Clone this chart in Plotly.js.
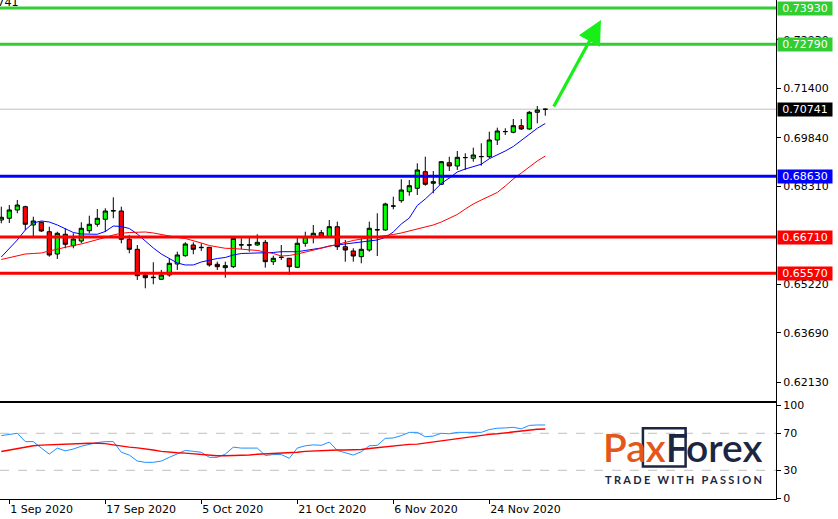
<!DOCTYPE html>
<html><head><meta charset="utf-8">
<script src="https://cdn.plot.ly/plotly-3.0.1.min.js"></script>
<style>html,body{margin:0;padding:0;background:#fff;overflow:hidden}#chart{width:838px;height:519px}</style>
</head><body><div id="chart"></div>
<script>
// ---- data (NZD/USD daily) ----
const dates = ['31 Aug','1 Sep','2 Sep','3 Sep','4 Sep','7 Sep','8 Sep','9 Sep','10 Sep','11 Sep',
 '14 Sep','15 Sep','16 Sep','17 Sep','18 Sep','21 Sep','22 Sep','23 Sep','24 Sep','25 Sep',
 '28 Sep','29 Sep','30 Sep','1 Oct','2 Oct','5 Oct','6 Oct','7 Oct','8 Oct','9 Oct',
 '12 Oct','13 Oct','14 Oct','15 Oct','16 Oct','19 Oct','20 Oct','21 Oct','22 Oct','23 Oct',
 '26 Oct','27 Oct','28 Oct','29 Oct','30 Oct','2 Nov','3 Nov','4 Nov','5 Nov','6 Nov',
 '9 Nov','10 Nov','11 Nov','12 Nov','13 Nov','16 Nov','17 Nov','18 Nov','19 Nov','20 Nov',
 '23 Nov','24 Nov','25 Nov','26 Nov','27 Nov','30 Nov','1 Dec','2 Dec','3 Dec'];
const openP = [0.67247,0.67301,0.67563,0.67667,0.67090,0.67175,0.66878,0.66175,0.66797,0.66437,
 0.66585,0.66910,0.67112,0.67269,0.67531,0.67531,0.66639,0.66323,0.65513,0.65428,
 0.65378,0.65513,0.65860,0.66122,0.66459,0.66374,0.66387,0.65851,0.65744,0.65775,
 0.66459,0.66465,0.66459,0.66544,0.65933,0.66067,0.66040,0.65756,0.66513,0.66702,
 0.66847,0.66702,0.67036,0.66405,0.66270,0.66090,0.66301,0.66932,0.66932,0.67684,
 0.67856,0.68140,0.68247,0.68770,0.68405,0.68373,0.69054,0.68950,0.69212,0.69193,
 0.69243,0.69243,0.69770,0.70032,0.70013,0.70221,0.70117,0.70643,0.70735];
const highP = [0.67667,0.67720,0.67878,0.67698,0.67351,0.67200,0.67036,0.66878,0.66986,0.66828,
 0.67175,0.67383,0.67594,0.67616,0.67963,0.67667,0.66775,0.66459,0.65545,0.65914,
 0.65671,0.66040,0.66248,0.66544,0.66544,0.66513,0.66396,0.65933,0.65933,0.66711,
 0.66670,0.66680,0.66797,0.66617,0.66122,0.66459,0.66049,0.66721,0.66878,0.67090,
 0.66932,0.67247,0.67194,0.66617,0.66355,0.66670,0.67194,0.67459,0.67793,0.67982,
 0.68531,0.68509,0.69035,0.69243,0.68792,0.69108,0.69243,0.69423,0.69350,0.69527,
 0.69666,0.70032,0.70158,0.70139,0.70432,0.70432,0.70684,0.70842,0.70760];
const lowP = [0.67143,0.67153,0.67459,0.66932,0.66721,0.66869,0.66090,0.66018,0.66355,0.66355,
 0.66513,0.66828,0.67036,0.66869,0.67301,0.66513,0.66197,0.65356,0.65094,0.65220,
 0.65356,0.65460,0.65671,0.66090,0.66166,0.66270,0.65775,0.65671,0.65428,0.65734,
 0.66333,0.66248,0.66437,0.65744,0.65829,0.65986,0.65513,0.65734,0.66405,0.66513,
 0.66670,0.66680,0.66301,0.65933,0.65933,0.65882,0.66248,0.66112,0.66910,0.67585,
 0.67793,0.68013,0.68035,0.68329,0.68089,0.68351,0.68792,0.68824,0.68824,0.69086,
 0.68960,0.69193,0.69612,0.69927,0.69981,0.70085,0.70095,0.70296,0.70536];
const closeP = [0.67333,0.67563,0.67720,0.67112,0.67216,0.66901,0.66144,0.66828,0.66481,0.66648,
 0.66986,0.67112,0.67301,0.67531,0.67541,0.66639,0.66323,0.65491,0.65428,0.65440,
 0.65513,0.65882,0.66144,0.66491,0.66323,0.66384,0.65829,0.65775,0.65807,0.66670,
 0.66465,0.66455,0.66544,0.65933,0.66040,0.66072,0.65775,0.66513,0.66721,0.66828,
 0.66702,0.67036,0.66405,0.66301,0.66112,0.66323,0.66986,0.66942,0.67752,0.67689,
 0.68193,0.68329,0.68824,0.68373,0.68455,0.69086,0.68950,0.69224,0.69217,0.69297,
 0.69248,0.69770,0.70054,0.70037,0.70221,0.70117,0.70643,0.70716,0.70741];
const maFast = [0.66081,0.66333,0.66617,0.66932,0.67153,0.67216,0.67184,0.67090,0.66964,0.66853,
 0.66806,0.66797,0.66797,0.66885,0.67058,0.67042,0.66979,0.66806,0.66585,0.66365,
 0.66175,0.66033,0.65892,0.65829,0.65829,0.65923,0.65986,0.66033,0.66065,0.66144,
 0.66191,0.66197,0.66216,0.66229,0.66223,0.66248,0.66248,0.66248,0.66286,0.66317,
 0.66365,0.66428,0.66459,0.66491,0.66522,0.66554,0.66585,0.66617,0.66696,0.66869,
 0.67121,0.67310,0.67705,0.67910,0.68146,0.68398,0.68572,0.68761,0.68855,0.68918,
 0.69004,0.69180,0.69297,0.69423,0.69565,0.69754,0.69950,0.70139,0.70290];
const maSlow = [0.66002,0.66065,0.66128,0.66175,0.66191,0.66207,0.66270,0.66333,0.66396,0.66443,
 0.66491,0.66554,0.66633,0.66696,0.66774,0.66828,0.66853,0.66869,0.66869,0.66838,
 0.66790,0.66727,0.66696,0.66664,0.66601,0.66522,0.66443,0.66396,0.66355,0.66349,
 0.66333,0.66317,0.66286,0.66238,0.66191,0.66112,0.66128,0.66175,0.66238,0.66301,
 0.66365,0.66428,0.66475,0.66554,0.66601,0.66648,0.66680,0.66711,0.66743,0.66790,
 0.66838,0.66901,0.66948,0.67011,0.67090,0.67184,0.67295,0.67421,0.67594,0.67752,
 0.67878,0.68004,0.68115,0.68319,0.68540,0.68729,0.68918,0.69108,0.69265];
const oscMain = [67.5,68.5,70,61,61,54,47.5,54,51,53,56,58,60,61,61,49.5,46.5,40,38.6,38.6,
 40,44,48,51.5,50.5,49.5,44,44,47.5,55,54,54,54,46,47,47,43,54,56.5,57.5,
 57,60.5,51.5,49,46.5,50,56.5,57,64.5,65,67.5,71,71,66.3,67,70,69.5,71,71,70.5,
 71,74,75.5,75.8,76.5,74.8,78.5,79,79];
const oscSignal = [50.3,52,54,55.5,56.6,57.2,57.6,58.2,58.5,59,59.2,59.2,59.2,58.8,57.5,56,55,54.2,53.5,52,
 50.5,49.4,49,48.6,48,47,46,45.8,45.8,45.8,45.8,46.5,47.3,47.7,48,48.2,48.5,49.5,50.5,51,
 51.5,52,52,52,52,52.5,53.5,54.5,55.5,56.8,57.5,58,58.3,59.5,60.5,61.5,63,64.5,65.5,66.5,
 67.5,68.8,69.5,70.5,71.2,72.5,73.5,74.3,74.6];
const levelPrices = [0.7393, 0.7279, 0.6863, 0.6671, 0.6557];
const levelColors = ['#32cd32', '#32cd32', '#0000ff', '#ff0000', '#ff0000'];
const lastPrice = 0.70741;
const priceTicks = [0.6213, 0.6369, 0.6522, 0.6831, 0.6984, 0.7140, 0.7293];
const oscTicks = [0, 30, 70, 100];
const oscLevels = [70, 30];
const tickDates = ['1 Sep', '17 Sep', '5 Oct', '21 Oct', '6 Nov', '24 Nov'];
const tickLabels = ['1 Sep 2020', '17 Sep 2020', '5 Oct 2020', '21 Oct 2020', '6 Nov 2020', '24 Nov 2020'];
const arrowFrom = [68.96, 0.70779];
const arrowTo = [74.96, 0.73553];

// ---- build ----
const idx = dates.map((d, i) => i);
const F = 'DejaVu Sans, sans-serif';
const traces = [
  {type:'candlestick', x:idx, open:openP, high:highP, low:lowP, close:closeP, xaxis:'x', yaxis:'y',
   increasing:{line:{color:'#000000', width:1}, fillcolor:'#00ff00'},
   decreasing:{line:{color:'#000000', width:1}, fillcolor:'#ff0000'},
   whiskerwidth:0, hoverinfo:'skip', showlegend:false},
  {type:'scatter', mode:'lines', x:idx, y:maFast, xaxis:'x', yaxis:'y', line:{color:'#0000ff', width:1}, hoverinfo:'skip', showlegend:false},
  {type:'scatter', mode:'lines', x:idx, y:maSlow, xaxis:'x', yaxis:'y', line:{color:'#ff0000', width:1}, hoverinfo:'skip', showlegend:false},
  {type:'scatter', mode:'lines', x:idx, y:oscMain, xaxis:'x2', yaxis:'y2', line:{color:'#1e90ff', width:1}, hoverinfo:'skip', showlegend:false},
  {type:'scatter', mode:'lines', x:idx, y:oscSignal, xaxis:'x2', yaxis:'y2', line:{color:'#ff0000', width:1.4}, hoverinfo:'skip', showlegend:false}
];

const shapes = [];
shapes.push({type:'line', xref:'paper', x0:0, x1:1, yref:'y', y0:lastPrice, y1:lastPrice, line:{color:'#c0c0c0', width:1}, layer:'below'});
levelPrices.forEach((p, i) => shapes.push({type:'line', xref:'paper', x0:0, x1:1, yref:'y', y0:p, y1:p, line:{color:levelColors[i], width:3}}));
oscLevels.forEach(v => shapes.push({type:'line', xref:'paper', x0:0, x1:1, yref:'y2', y0:v, y1:v, line:{color:'#c0c0c0', width:1, dash:'dash'}, layer:'below'}));
// logo frame
shapes.push({type:'rect', xref:'paper', yref:'paper', x0:0.8285, x1:0.8835, y0:0.0650, y1:0.1420, line:{color:'#1c2541', width:2.5}});

const annotations = [];
levelPrices.forEach((p, i) => annotations.push({xref:'paper', x:1, xanchor:'left', xshift:1, yref:'y', y:p, yanchor:'middle',
  text:p.toFixed(5), showarrow:false, bgcolor:levelColors[i], font:{family:F, size:11, color:'#ffffff'}, width:52, height:11, borderpad:1}));
annotations.push({xref:'paper', x:1, xanchor:'left', xshift:1, yref:'y', y:lastPrice, yanchor:'middle',
  text:lastPrice.toFixed(5), showarrow:false, bgcolor:'#000000', font:{family:F, size:11, color:'#ffffff'}, width:52, height:11, borderpad:1});
annotations.push({xref:'x', yref:'y', x:arrowTo[0], y:arrowTo[1], axref:'x', ayref:'y', ax:arrowFrom[0], ay:arrowFrom[1],
  text:'', showarrow:true, arrowhead:2, arrowsize:1.5, arrowwidth:3.2, arrowcolor:'#18ef18', standoff:0});
annotations.push({xref:'paper', yref:'paper', x:21/776, y:1, xanchor:'right', yanchor:'middle', yshift:-2,
  text:lastPrice.toFixed(5), showarrow:false, font:{family:F, size:11, color:'#000000'}});
annotations.push({xref:'paper', yref:'paper', x:0.7745, y:0.1040, xanchor:'left', yanchor:'middle', showarrow:false,
  text:'<span style="color:#e4571b">Pax</span><span style="color:#1c2541">Forex</span>', font:{family:'Lato, sans-serif', size:39, weight:600}});
annotations.push({xref:'paper', yref:'paper', x:0.7765, y:0.0381, xanchor:'left', yanchor:'middle', showarrow:false,
  text:'<span style="letter-spacing:2.3px">TRADE WITH PASSION</span>', font:{family:'Lato, sans-serif', size:11, weight:700, color:'#1c2541'}});

const layout = {
  width:838, height:519, margin:{l:0, r:62, t:0, b:20},
  paper_bgcolor:'#ffffff', plot_bgcolor:'#ffffff', showlegend:false, hovermode:false,
  boxgap:0.25,
  xaxis:{domain:[0,1], anchor:'y', range:[-0.1625, 96.84], showticklabels:false, ticks:'', showgrid:false, zeroline:false,
    showline:true, linecolor:'#000000', linewidth:1, rangeslider:{visible:false}, fixedrange:true},
  xaxis2:{domain:[0,1], anchor:'y2', range:[-0.1625, 96.84], showgrid:false, zeroline:false,
    showline:true, mirror:true, linecolor:'#000000', linewidth:1,
    tickvals:tickDates.map(d => dates.indexOf(d)), ticktext:tickLabels, ticks:'outside', ticklen:4, tickcolor:'#000000',
    ticklabelposition:'outside right', tickfont:{family:F, size:11, color:'#000000'}, fixedrange:true},
  yaxis:{domain:[0.1964, 1], anchor:'x', side:'right', range:[0.6154, 0.74184], showgrid:false, zeroline:false,
    showline:true, linecolor:'#000000', linewidth:1, tickvals:priceTicks, tickformat:'.5f', ticks:'outside', ticklen:4,
    tickcolor:'#000000', tickfont:{family:F, size:11, color:'#000000'}, fixedrange:true},
  yaxis2:{domain:[0, 0.1924], anchor:'x2', side:'right', range:[-1.03, 102.76], showgrid:false, zeroline:false,
    showline:true, linecolor:'#000000', linewidth:1, tickvals:oscTicks, ticks:'outside', ticklen:4,
    tickcolor:'#000000', tickfont:{family:F, size:11, color:'#000000'}, fixedrange:true},
  shapes:shapes, annotations:annotations
};
Plotly.newPlot('chart', traces, layout, {displayModeBar:false, staticPlot:true});
</script></body></html>
